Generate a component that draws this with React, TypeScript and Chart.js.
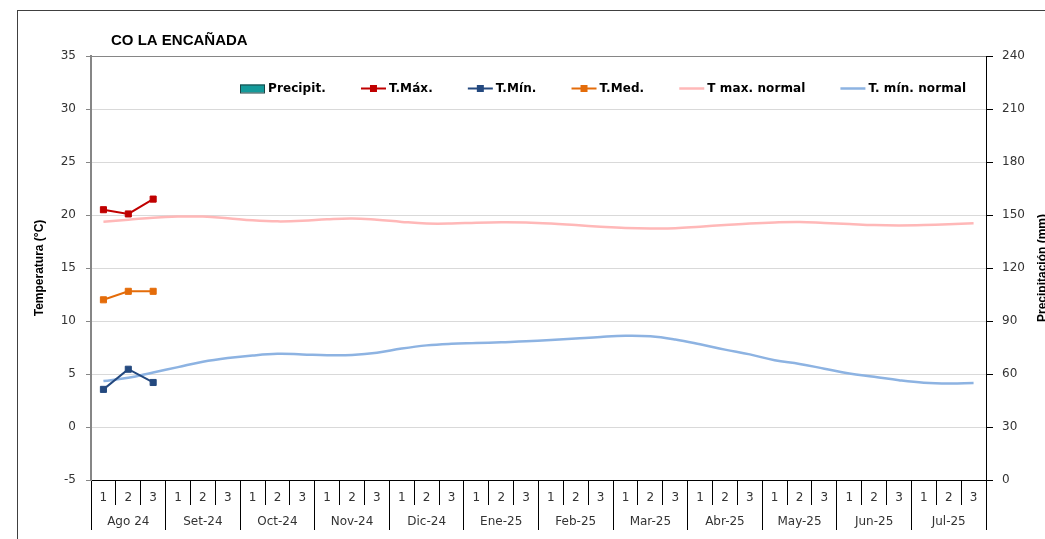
import React, { useEffect, useRef } from 'react';
import { Chart, registerables } from 'chart.js';

Chart.register(...registerables);

const stationName = 'CO LA ENCAÑADA';
const monthLabels = ['Ago 24', 'Set-24', 'Oct-24', 'Nov-24', 'Dic-24', 'Ene-25', 'Feb-25', 'Mar-25', 'Abr-25', 'May-25', 'Jun-25', 'Jul-25'];
const dekadNumbers = ['1', '2', '3'];
const tempTicks = { min: -5, max: 35, step: 5 };
const precipTicks = { min: 0, max: 240, step: 30 };

// Observed series (only the first three dekads have data)
const precipitation: number[] = [];
const tMax = [20.5, 20.1, 21.5];
const tMin = [3.55, 5.45, 4.2];
const tMed = [12.0, 12.8, 12.8];

// Normals per dekad
const tMaxNormal = [
  19.37, 19.55, 19.75, 19.85, 19.85, 19.7, 19.5, 19.4, 19.45, 19.6, 19.68, 19.55,
  19.35, 19.2, 19.2, 19.28, 19.32, 19.3, 19.2, 19.05, 18.9, 18.78, 18.73, 18.75,
  18.9, 19.05, 19.2, 19.3, 19.34, 19.25, 19.15, 19.05, 19.02, 19.05, 19.12, 19.22,
];
const tMinNormal = [
  4.33, 4.65, 5.15, 5.65, 6.15, 6.5, 6.75, 6.9, 6.85, 6.78, 6.8, 7.0,
  7.4, 7.7, 7.85, 7.92, 8.0, 8.08, 8.2, 8.35, 8.5, 8.6, 8.55, 8.25,
  7.8, 7.3, 6.85, 6.3, 5.95, 5.5, 5.05, 4.75, 4.42, 4.18, 4.1, 4.14,
];

const dekadLabels = monthLabels.flatMap(() => dekadNumbers);
const monthAxisLabels = monthLabels.flatMap((m) => ['', m, '']);

const TICK_FONT = { family: 'DejaVu Sans', size: 12 };

const decorPlugin = {
  id: 'decor',
  beforeDraw(chart: any) {
    const { ctx, width, height } = chart;
    ctx.save();
    ctx.fillStyle = '#ffffff';
    ctx.fillRect(0, 0, width, height);
    ctx.strokeStyle = '#404040';
    ctx.lineWidth = 1;
    ctx.strokeRect(17.5, 10.5, width + 40, height + 40);
    ctx.restore();
  },
  afterDraw(chart: any) {
    const { ctx, chartArea, width } = chart;
    ctx.save();
    // Title
    ctx.font = 'bold 15px "Liberation Sans"';
    ctx.fillStyle = '#000';
    ctx.textAlign = 'left';
    ctx.textBaseline = 'alphabetic';
    ctx.fillText(stationName, chartArea.left + 20, 45);

    // Legend
    let x = chartArea.left + 149;
    const y = chartArea.top + 32.5;
    ctx.font = 'bold 12px "DejaVu Sans"';
    try {
      (ctx as any).letterSpacing = '0.1px';
    } catch (e) {
      /* ignore */
    }
    ctx.textBaseline = 'middle';
    chart.data.datasets.forEach((ds: any) => {
      if (ds.type === 'bar') {
        ctx.fillStyle = ds.backgroundColor;
        ctx.fillRect(x, y - 4, 25, 8);
        ctx.strokeStyle = ds.borderColor;
        ctx.lineWidth = 1;
        ctx.strokeRect(x + 0.5, y - 3.5, 24, 8);
      } else {
        ctx.strokeStyle = ds.borderColor;
        ctx.lineWidth = Math.min(ds.borderWidth, 3);
        ctx.beginPath();
        ctx.moveTo(x, y);
        ctx.lineTo(x + 25, y);
        ctx.stroke();
        if (ds.pointRadius > 0) {
          ctx.fillStyle = ds.borderColor;
          ctx.fillRect(x + 9, y - 3.5, 7, 7);
        }
      }
      ctx.fillStyle = '#000';
      ctx.textAlign = 'left';
      ctx.fillText(ds.label, x + 28, y);
      x += 28 + ctx.measureText(ds.label).width + 35;
    });
    try {
      (ctx as any).letterSpacing = '0px';
    } catch (e) {
      /* ignore */
    }

    // Right axis title (reads bottom-to-top)
    ctx.translate(width - 2, (chartArea.top + chartArea.bottom) / 2);
    ctx.rotate(-Math.PI / 2);
    ctx.font = 'bold 12px "Liberation Sans"';
    ctx.textAlign = 'center';
    ctx.textBaseline = 'middle';
    ctx.fillStyle = '#000';
    ctx.fillText('Precipitación (mm)', 0, 0);
    ctx.restore();
  },
};

export default function App() {
  const canvasRef = useRef<HTMLCanvasElement>(null);

  useEffect(() => {
    const canvas = canvasRef.current;
    if (!canvas) return;
    const chart = new Chart(canvas, {
      type: 'line',
      data: {
        labels: dekadLabels,
        datasets: [
          {
            type: 'bar',
            label: 'Precipit.',
            data: precipitation,
            yAxisID: 'y1',
            xAxisID: 'x',
            backgroundColor: '#149a9a',
            borderColor: '#1c4545',
            borderWidth: 1,
          } as any,
          {
            label: 'T.Máx.',
            data: tMax,
            yAxisID: 'y',
            xAxisID: 'x',
            borderColor: '#C00000',
            backgroundColor: '#C00000',
            borderWidth: 2,
            pointStyle: 'rect',
            pointRadius: 4.3,
            pointBorderWidth: 1,
            pointBackgroundColor: '#C00000',
            pointBorderColor: '#C00000',
            tension: 0,
          },
          {
            label: 'T.Mín.',
            data: tMin,
            yAxisID: 'y',
            xAxisID: 'x',
            borderColor: '#24497F',
            backgroundColor: '#24497F',
            borderWidth: 2,
            pointStyle: 'rect',
            pointRadius: 4.3,
            pointBorderWidth: 1,
            pointBackgroundColor: '#24497F',
            pointBorderColor: '#24497F',
            tension: 0,
          },
          {
            label: 'T.Med.',
            data: tMed,
            yAxisID: 'y',
            xAxisID: 'x',
            borderColor: '#E46C0A',
            backgroundColor: '#E46C0A',
            borderWidth: 2,
            pointStyle: 'rect',
            pointRadius: 4.3,
            pointBorderWidth: 1,
            pointBackgroundColor: '#E46C0A',
            pointBorderColor: '#E46C0A',
            tension: 0,
          },
          {
            label: 'T max. normal',
            data: tMaxNormal,
            yAxisID: 'y',
            xAxisID: 'x',
            borderColor: '#FFB8B8',
            backgroundColor: '#FFB8B8',
            borderWidth: 2.5,
            pointRadius: 0,
            tension: 0.4,
          },
          {
            label: 'T. mín. normal',
            data: tMinNormal,
            yAxisID: 'y',
            xAxisID: 'x',
            borderColor: '#8DB3E2',
            backgroundColor: '#8DB3E2',
            borderWidth: 2.5,
            pointRadius: 0,
            tension: 0.4,
          },
        ],
      },
      options: {
        responsive: false,
        animation: false,
        events: [],
        layout: { padding: { top: 56, left: 17, right: 0, bottom: 9 } },
        plugins: {
          legend: { display: false },
          tooltip: { enabled: false },
          title: { display: false },
        },
        scales: {
          x: {
            type: 'category',
            position: 'bottom',
            weight: 0,
            offset: true,
            grid: {
              offset: true,
              drawOnChartArea: false,
              drawTicks: true,
              tickLength: 25,
              color: '#000',
              lineWidth: 1,
            },
            border: { display: true, color: '#000', width: 1 },
            ticks: {
              autoSkip: false,
              maxRotation: 0,
              minRotation: 0,
              padding: -14,
              color: '#333',
              font: TICK_FONT,
            },
            afterFit: (s: any) => {
              s.height = 25;
            },
          },
          x2: {
            type: 'category',
            position: 'bottom',
            weight: 1,
            offset: true,
            labels: monthAxisLabels,
            grid: {
              offset: true,
              drawOnChartArea: false,
              drawTicks: true,
              tickLength: 25,
              color: (c: any) => (c.index === undefined || c.index % 3 === 0 ? '#000' : 'rgba(0,0,0,0)'),
              lineWidth: 1,
            },
            border: { display: false },
            ticks: {
              autoSkip: false,
              maxRotation: 0,
              minRotation: 0,
              padding: -15,
              color: '#333',
              font: TICK_FONT,
            },
            afterFit: (s: any) => {
              s.height = 25;
            },
          },
          y: {
            position: 'left',
            min: tempTicks.min,
            max: tempTicks.max,
            ticks: { stepSize: tempTicks.step, padding: 10, color: '#333', font: TICK_FONT },
            grid: {
              color: (c: any) => (c.tick && c.tick.value === tempTicks.max ? '#868686' : '#d9d9d9'),
              tickColor: '#868686',
              tickLength: 5,
              lineWidth: 1,
            },
            border: { color: '#868686', width: 2 },
            title: {
              display: true,
              text: 'Temperatura (°C)',
              color: '#000',
              font: { family: 'Liberation Sans', size: 12, weight: 'bold' },
              padding: { top: 15, bottom: 0 },
            },
            afterFit: (s: any) => {
              s.width = 74;
            },
          },
          y1: {
            position: 'right',
            min: precipTicks.min,
            max: precipTicks.max,
            ticks: { stepSize: precipTicks.step, padding: 9, color: '#333', font: TICK_FONT },
            grid: { drawOnChartArea: false, tickLength: 7, color: '#000' },
            border: { color: '#000', width: 1 },
            afterFit: (s: any) => {
              s.width = 59;
            },
          },
        },
      } as any,
      plugins: [decorPlugin],
    });
    return () => chart.destroy();
  }, []);

  return (
    <div
      style={{
        position: 'fixed',
        left: 0,
        top: 0,
        width: 1045,
        height: 539,
        overflow: 'hidden',
        background: '#fff',
      }}
    >
      <canvas ref={canvasRef} width={1045} height={539} style={{ display: 'block' }} />
    </div>
  );
}
